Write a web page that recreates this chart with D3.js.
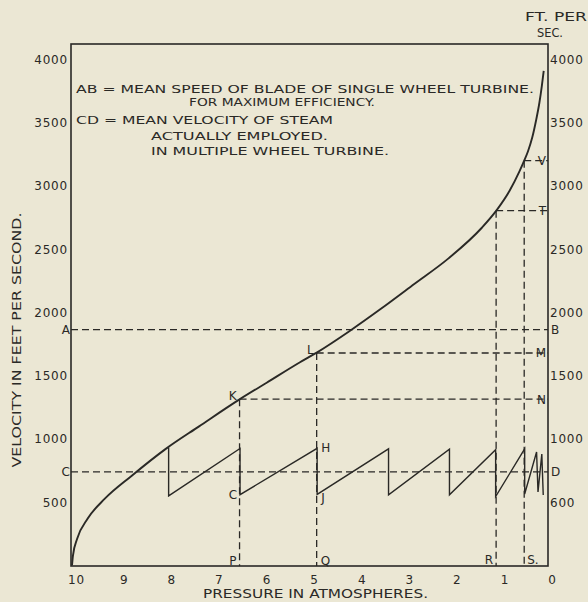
<!DOCTYPE html>
<html>
<head>
<meta charset="utf-8">
<script src="https://cdn.jsdelivr.net/npm/d3@7"></script>
<style>
  html, body { margin: 0; padding: 0; background: #ebe7d4; }
  svg { display: block; }
  text { font-family: "DejaVu Sans", "Liberation Sans", sans-serif; fill: #2a2926; }
</style>
</head>
<body>
<svg id="chart" width="588" height="602"></svg>
<script>
// ---------- data ----------
const pressureTicks = [10, 9, 8, 7, 6, 5, 4, 3, 2, 1, 0];
const pressureTickLabels = ["10", "9", "8", "7", "6", "5", "4", "3", "2", "1", "0"];
const velocityTicks = [500, 1000, 1500, 2000, 2500, 3000, 3500, 4000];
const leftTickLabels = ["500", "1000", "1500", "2000", "2500", "3000", "3500", "4000"];
const rightTickLabels = ["600", "1000", "1500", "2000", "2500", "3000", "3500", "4000"];

// theoretical steam velocity curve (pressure in atm, velocity ft/sec)
const curvePressure = [10, 9.98, 9.89, 9.67, 9.31, 8.75, 8.03, 7.33, 6.48, 5.91, 5.21, 4.85, 4.15, 3.51, 2.81, 2.09, 1.39, 1.07, 0.81, 0.60, 0.50, 0.42, 0.33, 0.25, 0.18, 0.13, 0.09];
const curveVelocity = [0, 79, 213, 371, 528, 708, 922, 1100, 1313, 1445, 1607, 1685, 1858, 2029, 2225, 2428, 2670, 2813, 2960, 3115, 3200, 3275, 3385, 3520, 3660, 3790, 3910];

// actual velocity in multiple wheel turbine (sawtooth)
const sawPressure = [7.97, 7.97, 6.47, 6.47, 4.85, 4.85, 3.35, 3.35, 2.07, 2.07, 1.10, 1.10, 0.49, 0.49, 0.24, 0.21, 0.13, 0.10];
const sawVelocity = [930, 550, 925, 560, 926, 562, 922, 558, 919, 559, 915, 545, 922, 565, 897, 581, 881, 557];

// full width reference levels
const levelNames = ["A", "C"];
const levelRightNames = ["B", "D"];
const levelValues = [1865, 740];

// stage points on the curve
const stageNames = ["K", "L", "T", "V"];
const stageRightNames = ["N", "M", "T", "V"];
const stageFootNames = ["P", "Q", "R", "S."];
const stagePressure = [6.48, 4.86, 1.09, 0.50];
const stageVelocity = [1315, 1680, 2805, 3200];

// ---------- layout ----------
const svg = d3.select("#chart");
const ink = "#2a2926";
const fLeft = 71, fRight = 548, fTop = 44, fBottom = 566;

const x = d3.scaleLinear().domain([10, 0]).range([72, 548]);
const y = d3.scaleLinear().domain([0, 4000]).range([565.5, 59.5]);

// frame
svg.append("rect")
  .attr("x", fLeft).attr("y", fTop)
  .attr("width", fRight - fLeft).attr("height", fBottom - fTop)
  .attr("fill", "none").attr("stroke", ink).attr("stroke-width", 1.6);

// axes (labels only, no tick marks)
const axL = d3.axisLeft(y).tickValues(velocityTicks).tickSize(0).tickPadding(3)
  .tickFormat((d, i) => leftTickLabels[i]);
const gL = svg.append("g").attr("transform", `translate(${fLeft},0)`).call(axL);
const axR = d3.axisRight(y).tickValues(velocityTicks).tickSize(0).tickPadding(2)
  .tickFormat((d, i) => rightTickLabels[i]);
const gR = svg.append("g").attr("transform", `translate(${fRight},0)`).call(axR);
const axB = d3.axisBottom(x).tickValues(pressureTicks).tickSize(0).tickPadding(9)
  .tickFormat((d, i) => pressureTickLabels[i]);
const gB = svg.append("g").attr("transform", `translate(4,${fBottom})`).call(axB);
[gL, gR, gB].forEach(g => {
  g.select(".domain").remove();
  g.selectAll("text").attr("fill", ink).style("font-family", '"DejaVu Sans", sans-serif')
    .style("font-size", "12px").style("letter-spacing", "0.8px");
});

const dash = "7,4";
const guides = svg.append("g").attr("stroke", ink).attr("stroke-width", 1.3)
  .attr("stroke-dasharray", dash).attr("fill", "none");

// full-width levels AB and CD
levelValues.forEach(v => {
  guides.append("line").attr("x1", fLeft).attr("x2", fRight)
    .attr("y1", y(v)).attr("y2", y(v));
});
// stage guides: horizontal to right frame, vertical to bottom
stagePressure.forEach((p, i) => {
  const v = stageVelocity[i];
  guides.append("line").attr("x1", x(p)).attr("x2", fRight).attr("y1", y(v)).attr("y2", y(v));
  guides.append("line").attr("x1", x(p)).attr("x2", x(p)).attr("y1", y(v)).attr("y2", fBottom);
});

// main curve
const curveData = curvePressure.map((p, i) => [p, curveVelocity[i]]);
svg.append("path")
  .datum(curveData)
  .attr("d", d3.line().x(d => x(d[0])).y(d => y(d[1])).curve(d3.curveMonotoneX))
  .attr("fill", "none").attr("stroke", ink).attr("stroke-width", 1.9);

// sawtooth
const sawData = sawPressure.map((p, i) => [p, sawVelocity[i]]);
svg.append("path")
  .datum(sawData)
  .attr("d", d3.line().x(d => x(d[0])).y(d => y(d[1])))
  .attr("fill", "none").attr("stroke", ink).attr("stroke-width", 1.4)
  .attr("stroke-linejoin", "miter");

// letter labels
const lab = svg.append("g").style("font-size", "12px");
function letter(t, px, py, anchor) {
  lab.append("text").attr("x", px).attr("y", py).attr("text-anchor", anchor || "start").text(t);
}
levelValues.forEach((v, i) => {
  letter(levelNames[i], fLeft - 1, y(v) + 4.5, "end");
  letter(levelRightNames[i], fRight + 3, y(v) + 4.5, "start");
});
// K and L labels on curve
letter(stageNames[0], x(stagePressure[0]) - 3, y(stageVelocity[0]) + 1, "end");
letter(stageNames[1], x(stagePressure[1]) - 3, y(stageVelocity[1]) + 1, "end");
// right-side names inside frame
stageRightNames.forEach((n, i) => {
  letter(n, fRight - 2, y(stageVelocity[i]) + 4.5, "end");
});
// foot names
letter(stageFootNames[0], x(stagePressure[0]) - 3, fBottom - 1, "end");
letter(stageFootNames[1], x(stagePressure[1]) + 4, fBottom - 1, "start");
letter(stageFootNames[2], x(stagePressure[2]) - 3, fBottom - 2, "end");
letter(stageFootNames[3], x(stagePressure[3]) + 3, fBottom - 2, "start");
// sawtooth labels
letter("C", x(sawPressure[2]) - 3, y(sawVelocity[3]) + 4, "end");
letter("H", x(sawPressure[4]) + 4, y(sawVelocity[4]) + 4, "start");
letter("J", x(sawPressure[4]) + 4, y(sawVelocity[5]) + 8, "start");

// annotation text
const notes = [
  ["AB = MEAN SPEED OF BLADE OF SINGLE WHEEL TURBINE.", 76, 93, 458],
  ["FOR MAXIMUM EFFICIENCY.", 189, 106, 186],
  ["CD = MEAN VELOCITY OF STEAM", 76, 124, 257],
  ["ACTUALLY EMPLOYED.", 151, 140, 177],
  ["IN MULTIPLE WHEEL TURBINE.", 151, 155, 238]
];
notes.forEach(n => {
  svg.append("text").attr("x", n[1]).attr("y", n[2])
    .attr("textLength", n[3]).attr("lengthAdjust", "spacingAndGlyphs")
    .style("font-size", "11px").text(n[0]);
});

// axis titles
svg.append("text")
  .attr("transform", "translate(21,340) rotate(-90)")
  .attr("text-anchor", "middle")
  .attr("textLength", 255).attr("lengthAdjust", "spacingAndGlyphs")
  .style("font-size", "11.5px")
  .text("VELOCITY IN FEET PER SECOND.");
svg.append("text")
  .attr("x", 203).attr("y", 598)
  .attr("textLength", 225).attr("lengthAdjust", "spacingAndGlyphs")
  .style("font-size", "11.5px")
  .text("PRESSURE IN ATMOSPHERES.");
svg.append("text").attr("x", 525).attr("y", 21)
  .attr("textLength", 62).attr("lengthAdjust", "spacingAndGlyphs")
  .style("font-size", "11.5px").text("FT. PER");
svg.append("text").attr("x", 537).attr("y", 37)
  .attr("textLength", 26).attr("lengthAdjust", "spacingAndGlyphs")
  .style("font-size", "11.5px").text("SEC.");
</script>
</body>
</html>
